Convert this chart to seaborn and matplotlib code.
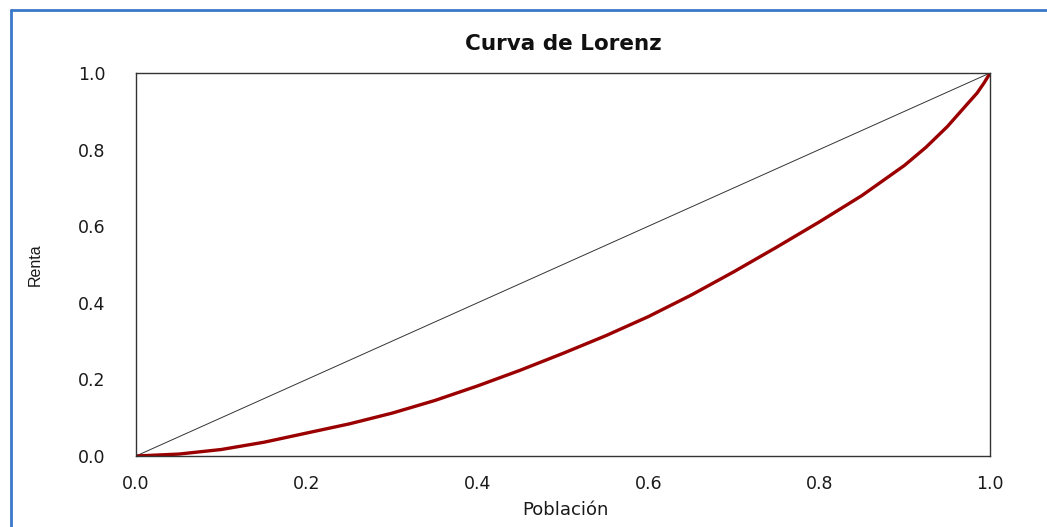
import matplotlib
matplotlib.use("Agg")
import matplotlib.pyplot as plt
import seaborn as sns
import pandas as pd
from matplotlib.lines import Line2D

# Data
poblacion = [0.0, 0.05, 0.1, 0.15, 0.2, 0.25, 0.3, 0.35, 0.4, 0.45, 0.5, 0.55,
             0.6, 0.65, 0.7, 0.75, 0.8, 0.85, 0.9, 0.925, 0.95, 0.973, 0.985,
             0.993, 0.998, 1.0]
renta = [0.0, 0.005, 0.017, 0.036, 0.060, 0.084, 0.112, 0.145, 0.183, 0.224, 0.268, 0.314,
         0.364, 0.420, 0.481, 0.545, 0.611, 0.680, 0.759, 0.806, 0.860, 0.918, 0.948,
         0.974, 0.992, 1.0]
igualdad_x = [0.0, 1.0]
igualdad_y = [0.0, 1.0]
ticks = [0.0, 0.2, 0.4, 0.6, 0.8, 1.0]
tick_labels = ["0.0", "0.2", "0.4", "0.6", "0.8", "1.0"]

sns.set_style("white")
plt.rcParams["font.family"] = ["DejaVu Sans"]

fig = plt.figure(figsize=(10.47, 5.27), dpi=100)
ax = fig.add_axes([136 / 1047, 1 - 456 / 527, (990 - 136) / 1047, (456 - 73) / 527])

df_l = pd.DataFrame({"Población": poblacion, "Renta": renta})
df_e = pd.DataFrame({"x": igualdad_x, "y": igualdad_y})

sns.lineplot(data=df_e, x="x", y="y", ax=ax, color="#333333", linewidth=0.7)
sns.lineplot(data=df_l, x="Población", y="Renta", ax=ax, color="#9b0000", linewidth=2.4,
             solid_joinstyle="round")

ax.set_xlim(0, 1)
ax.set_ylim(0, 1)
ax.set_xticks(ticks)
ax.set_xticklabels(tick_labels)
ax.set_yticks(ticks)
ax.set_yticklabels(tick_labels)

for s in ax.spines.values():
    s.set_visible(True)
    s.set_color("#333333")
    s.set_linewidth(1.0)

ax.tick_params(axis="x", direction="out", length=5, width=1.0, color="#333333",
               pad=9, labelsize=12.5, labelcolor="#1a1a1a")
ax.tick_params(axis="y", direction="out", length=10, width=1.0, color="#333333",
               pad=12, labelsize=12.5, labelcolor="#1a1a1a")

ax.set_xlabel("")
ax.set_ylabel("")
fig.text(565 / 1047, 1 - 510 / 527, "Población", ha="center", va="center",
         fontsize=13, color="#1a1a1a")
fig.text(35 / 1047, 1 - 265 / 527, "Renta", ha="center", va="center", rotation=90,
         fontsize=11.5, color="#1a1a1a", family=["Liberation Sans"], fontstretch="condensed")
fig.text(563 / 1047, 1 - 44 / 527, "Curva de Lorenz", ha="center", va="center",
         fontsize=15.5, fontweight="bold", color="#111111")

# Blue screenshot frame
blue = "#3a78c8"
fig.add_artist(Line2D([11 / 1047, 11 / 1047], [0, 1 - 10 / 527], transform=fig.transFigure,
                      color=blue, linewidth=2))
fig.add_artist(Line2D([11 / 1047, 1], [1 - 10 / 527, 1 - 10 / 527], transform=fig.transFigure,
                      color=blue, linewidth=2))

fig.savefig("out.png", dpi=100)
